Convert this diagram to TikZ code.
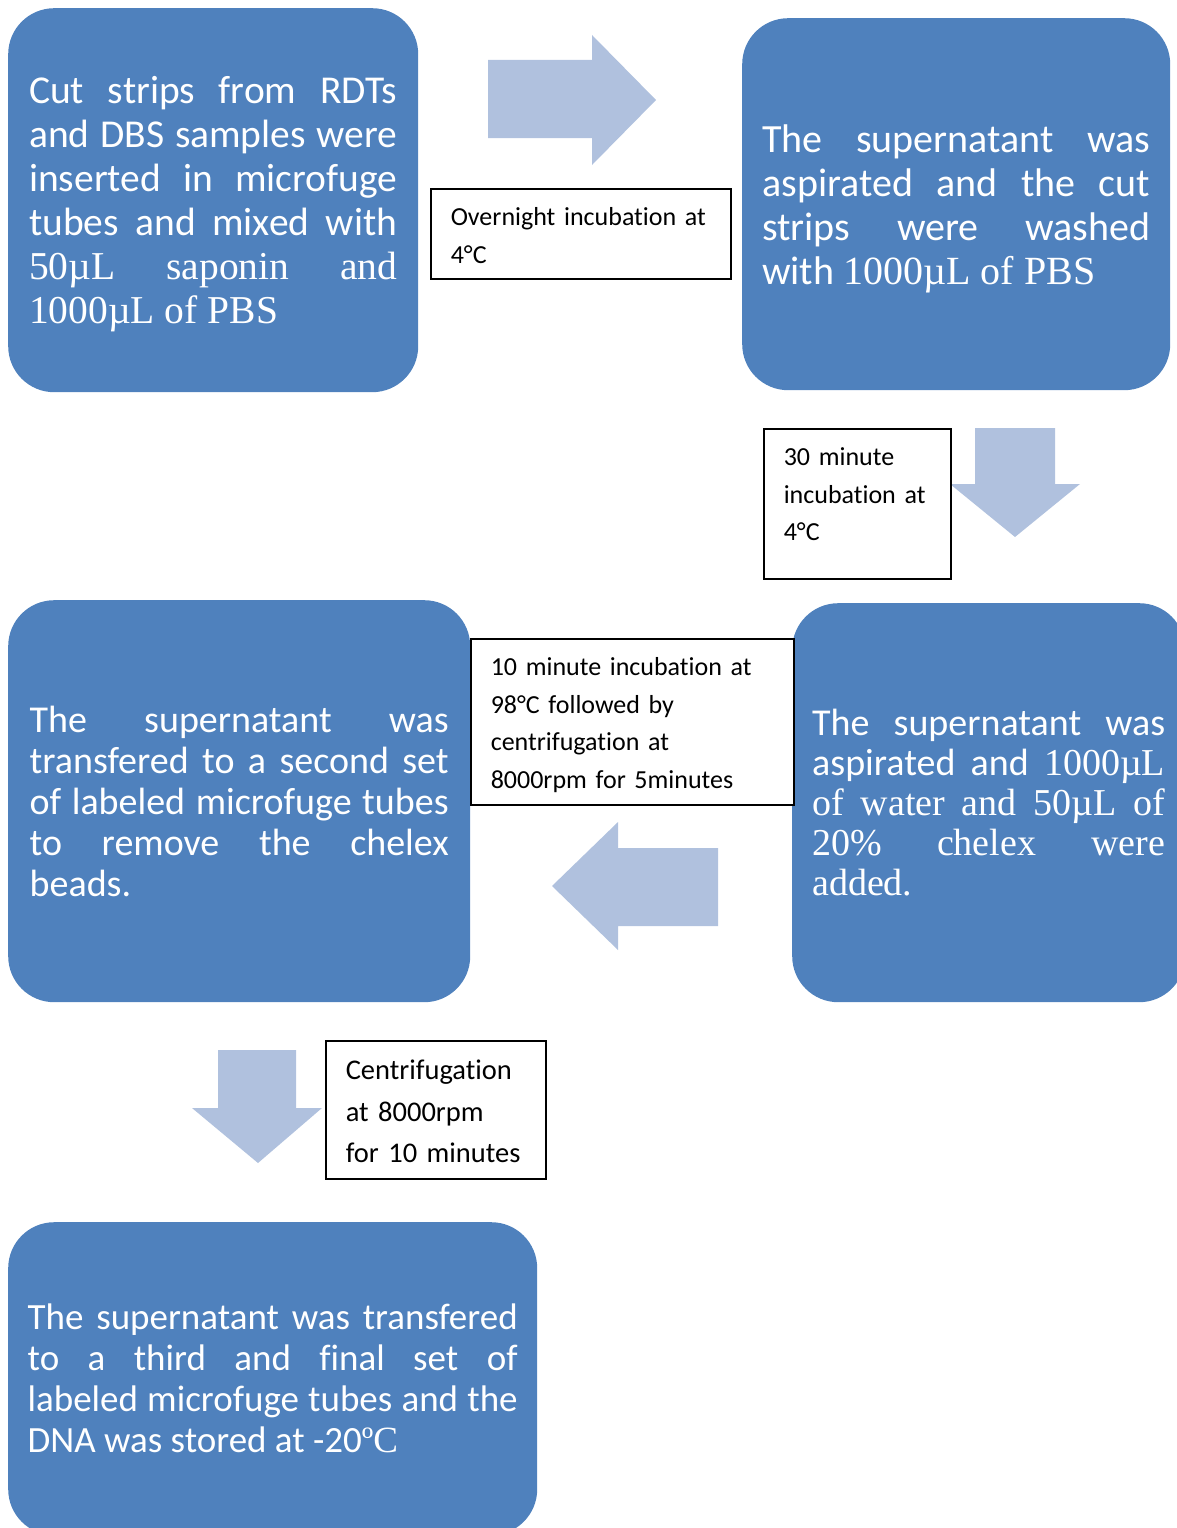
\documentclass[tikz,border=0pt]{standalone}
\usepackage{fontspec}
\setmainfont{Carlito}[Ligatures=NoCommon]
\newfontfamily\tms{Liberation Serif}
\usetikzlibrary{positioning}

\definecolor{stepblue}{RGB}{79,129,189}
\definecolor{arrowblue}{RGB}{176,193,222}

\begin{document}
\begin{tikzpicture}[
				x=1pt, y=-1pt,
				% Define Box Styles
				stepbox/.style={fill=stepblue, rounded corners=46pt, text=white, align=justify, inner sep=0pt, anchor=north west},
				notebox/.style={draw, fill=white, line width=1.5pt, anchor=north west, align=left, inner xsep=20pt, inner ysep=0pt, text height=37pt, font={\fontsize{26}{37.5}\selectfont}},
				% Define Arrow Style
				blockarrow/.style={fill=arrowblue}
				]
				\useasboundingbox (0,0) rectangle (1177,1528);
				
				% Process steps
				\node[stepbox, minimum width=410pt, minimum height=384pt, text width=368pt, text height=36pt, font={\fontsize{39.5}{44}\selectfont}] (cut) at (8,8)
					{Cut strips from RDTs\linebreak and DBS samples were\linebreak inserted in microfuge\linebreak tubes and mixed with\linebreak {\tms 50µL saponin and\linebreak 1000µL of PBS}};
				\node[stepbox, minimum width=428pt, minimum height=372pt, text width=388pt, text height=37pt, font={\fontsize{40}{44}\selectfont}] (wash) at (742,18)
					{The supernatant was\linebreak aspirated and the cut\linebreak strips were washed\linebreak with {\tms 1000µL of PBS}};
				\node[stepbox, minimum width=393pt, minimum height=399pt, text width=353pt, font={\fontsize{38}{40}\selectfont}] (chelex) at (792,603)
					{The supernatant was\linebreak aspirated and {\tms 1000µL\linebreak of water and 50µL of\linebreak 20\% chelex were\linebreak added.}};
				\node[stepbox, minimum width=462pt, minimum height=402pt, text width=419pt, font={\fontsize{38}{41}\selectfont}] (transfer) at (8,600)
					{The supernatant was\linebreak transfered to a second set\linebreak of labeled microfuge tubes\linebreak to remove the chelex\linebreak beads.};
				\node[stepbox, minimum width=529pt, minimum height=313pt, text width=490pt, font={\fontsize{37}{41}\selectfont}] (store) at (8,1222)
					{The supernatant was transfered\linebreak to a third and final set of\linebreak labeled microfuge tubes and the\linebreak DNA was stored at -20{\tms ºC}};
				
				% Block arrows
				\fill[blockarrow] (488,60) -- (592,60) -- (592,35) -- (656,100) -- (592,165) -- (592,138) -- (488,138) -- cycle;
				\fill[blockarrow] (975,428) -- (1055,428) -- (1055,484) -- (1080,484) -- (1015,537) -- (950,484) -- (975,484) -- cycle;
				\fill[blockarrow] (552,886) -- (618,822) -- (618,848) -- (718,848) -- (718,926) -- (618,926) -- (618,950) -- cycle;
				\fill[blockarrow] (218,1050) -- (296,1050) -- (296,1108) -- (322,1108) -- (258,1163) -- (192,1108) -- (218,1108) -- cycle;
				
				% Incubation notes
				\node[notebox, text width=260pt, text depth=53pt] (overnight) at (430,188)
					{Overnight incubation at\\4°C};
				\node[notebox, text width=147pt, text depth=113pt] (thirtymin) at (763,428)
					{30 minute\\incubation at\\4°C};
				\node[notebox, text width=283pt, text depth=129pt] (tenmin) at (470,638)
					{10 minute incubation at\\98°C followed by\\centrifugation at\\8000rpm for 5minutes};
				\node[notebox, text width=180pt, text height=39pt, text depth=99pt, font={\fontsize{28.5}{41.5}\selectfont}] (spin) at (325,1040)
					{Centrifugation\\at 8000rpm\\for 10 minutes};
				
			\end{tikzpicture}
\end{document}
